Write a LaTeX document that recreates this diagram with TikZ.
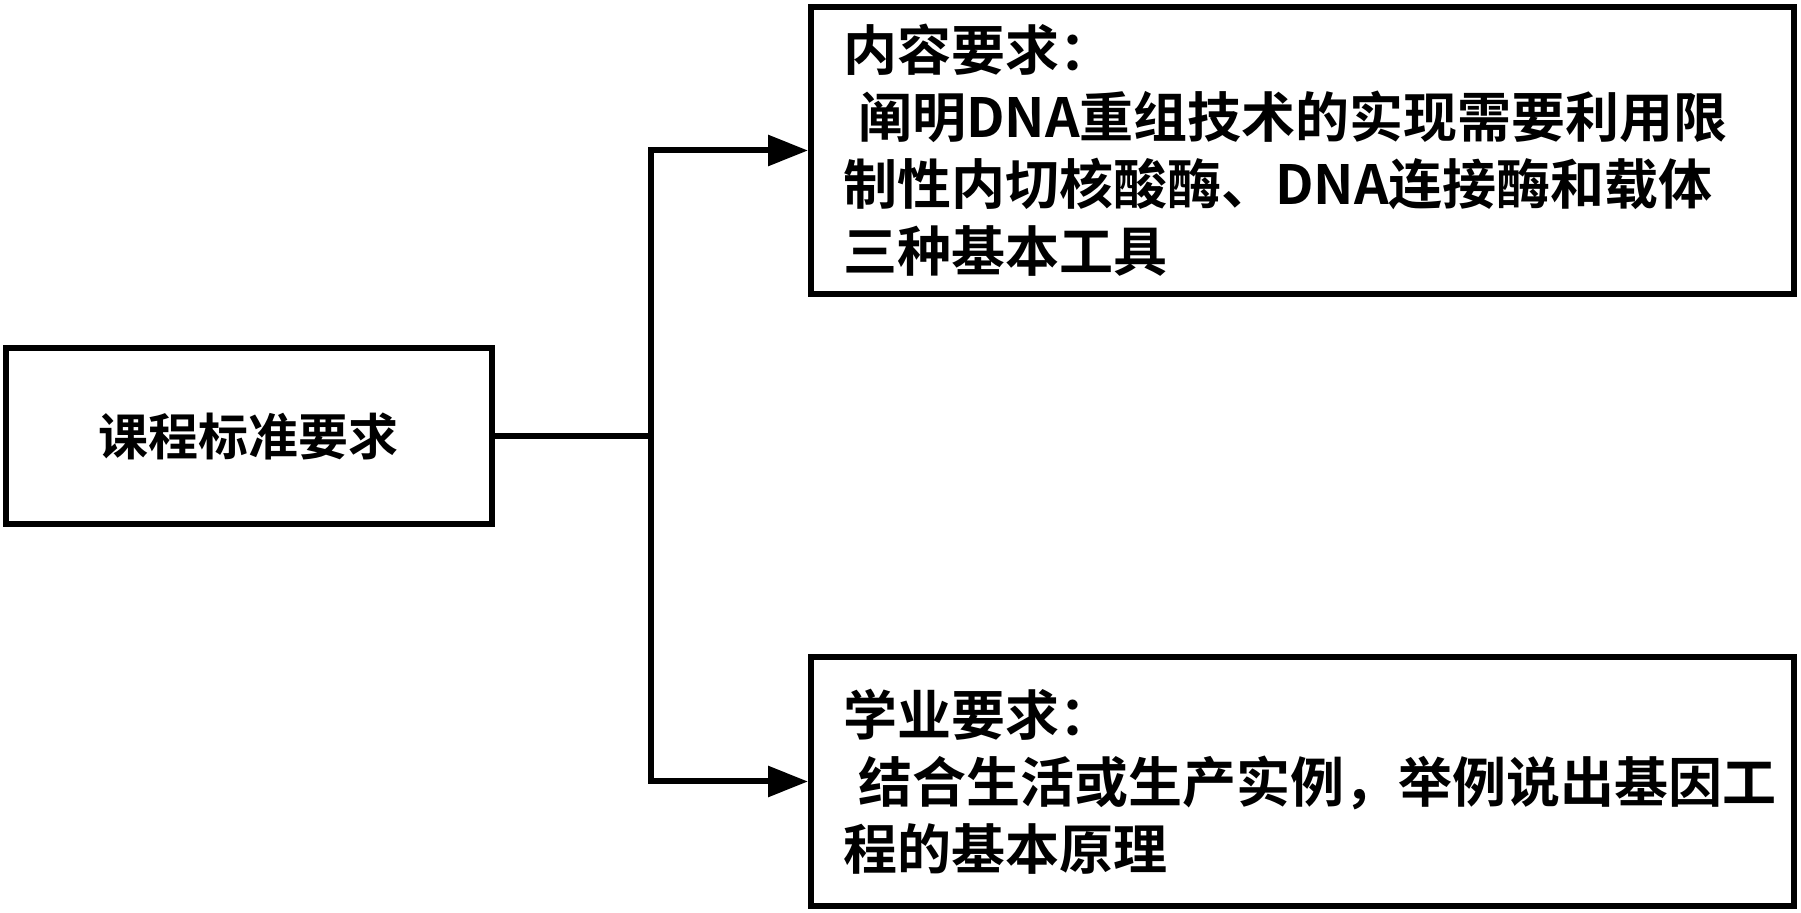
\documentclass[tikz,border=0pt]{standalone}
\usepackage{fontspec}
\newfontfamily\cjkbold{Noto Sans CJK SC}[UprightFont=* Bold]
\usetikzlibrary{arrows.meta}

\begin{document}
\begin{tikzpicture}[x=0.5pt, y=-0.5pt,
  box/.style={draw, line width=3pt, inner xsep=16pt,
    font=\cjkbold\fontsize{27pt}{33.5pt}\selectfont},
  link/.style={line width=3pt, -{Triangle[length=20pt, width=15pt]}}]

\useasboundingbox (0,0) rectangle (1801,913);

% ---- the standard on the left ----
\node[box, minimum width=243pt, minimum height=88pt,
  font=\cjkbold\fontsize{25pt}{30pt}\selectfont] (std) at (248.6,436) {课程标准要求};

% ---- the two requirements on the right ----
\node[box, minimum width=491.5pt, minimum height=143.5pt, text width=459.5pt,
  align=left] (content) at (1302.5,150.5)
  {内容要求：\\\hspace*{0.28em}阐明DNA重组技术的实现需要利用限\\制性内切核酸酶、DNA连接酶和载体\\三种基本工具};
\node[box, minimum width=491.5pt, minimum height=124.5pt, text width=459.5pt,
  align=left] (study) at (1302.5,781.5)
  {学业要求：\\\hspace*{0.28em}结合生活或生产实例，举例说出基因工\\程的基本原理};

% ---- connectors ----
\coordinate (fork) at (651,436);
\draw[line width=3pt] (std.east) -- (fork);
\draw[link] (fork) |- (content.west);
\draw[link] (fork) |- (study.west);

\end{tikzpicture}
\end{document}
